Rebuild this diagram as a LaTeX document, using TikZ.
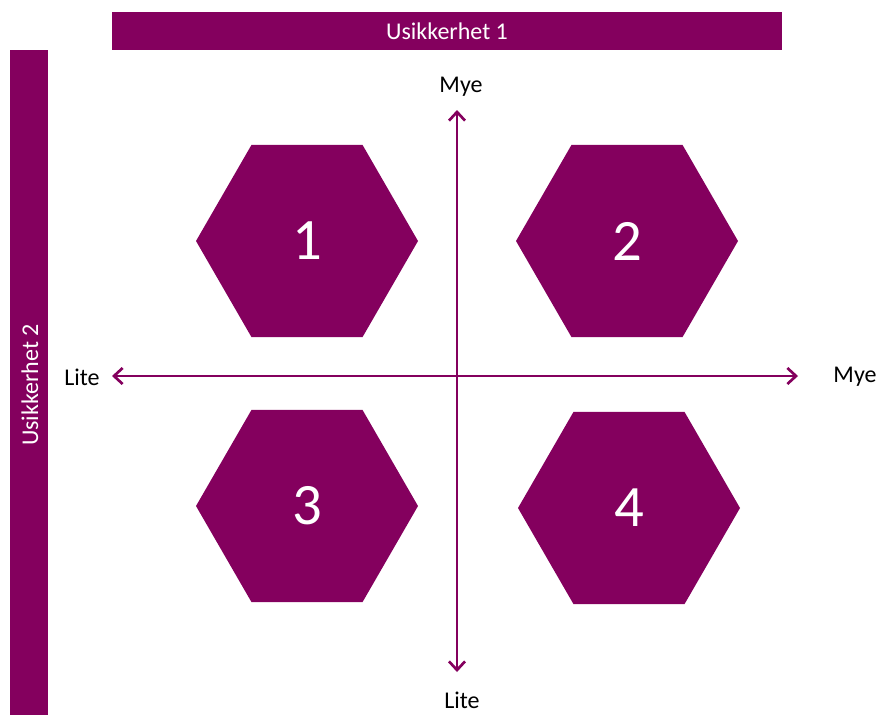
\documentclass[tikz,border=0pt]{standalone}
\usepackage{fontspec}
\setmainfont{Carlito}
\usetikzlibrary{shapes.geometric, arrows.meta}
\definecolor{plum}{RGB}{132,0,94}

\begin{document}
\begin{tikzpicture}[
    x=0.75pt, y=-0.75pt,
    bar/.style={fill=plum, draw=none, inner sep=0pt, text=white, font=\fontsize{18}{20}\selectfont},
    hexa/.style={regular polygon, regular polygon sides=6, minimum size=166.5pt, inner sep=0pt,
                 fill=plum, draw=none, text=white, font=\fontsize{44}{48}\selectfont},
    label/.style={font=\fontsize{18}{20}\selectfont, inner sep=0pt},
    axis/.style={{Straight Barb[length=6.5pt, width=12pt, line width=2pt]}-{Straight Barb[length=6.5pt, width=12pt, line width=2pt]}, draw=plum, line width=2.2pt}
]
\useasboundingbox (0,0) rectangle (877,715);

\node[bar, minimum width=502.5pt, minimum height=28.5pt] (u1) at (447, 31) {Usikkerhet 1};
\node[bar, minimum width=28.5pt, minimum height=498.75pt, anchor=north] (u2) at (29, 50) {};
\node[bar, rotate=90] (u2txt) at (30, 385) {Usikkerhet 2};

\node[hexa] (h1) at (307, 241) {1};
\node[hexa] (h2) at (627, 241) {2};
\node[hexa] (h3) at (307, 506) {3};
\node[hexa] (h4) at (629, 508) {4};

\coordinate (west)  at (112, 376);
\coordinate (east)  at (798, 376);
\coordinate (north) at (457, 110);
\coordinate (south) at (457, 672);

\draw[axis] (west) -- (east);
\draw[axis] (south) -- (north);

% Axis labels
\node[label] (liteW) at (82, 377) {Lite};
\node[label] (myeE)  at (855, 377) {Mye};
\node[label] (myeN)  at (461, 87) {Mye};
\node[label] (liteS) at (462, 700) {Lite};

\end{tikzpicture}
\end{document}
